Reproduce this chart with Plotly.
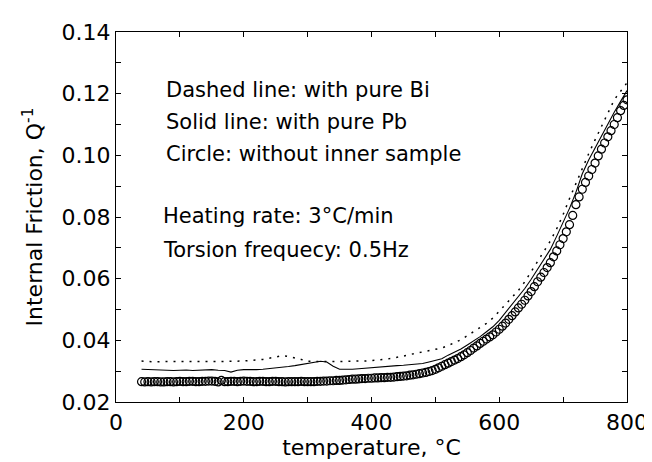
import plotly.graph_objects as go

# Temperature grid (°C) for the two line series
temperature = [40, 50, 60, 70, 80, 90, 100, 110, 120, 130, 140, 150, 160, 170, 180, 190,
               200, 210, 220, 230, 240, 250, 260, 270, 280, 290, 300, 310, 320, 330, 340, 350,
               360, 370, 380, 390, 400, 410, 420, 430, 440, 450, 460, 470, 480, 490, 500, 510,
               520, 530, 540, 550, 560, 570, 580, 590, 600, 610, 620, 630, 640, 650, 660, 670,
               680, 690, 700, 710, 720, 730, 740, 750, 760, 770, 780, 790, 800]

# Dashed line: with pure Bi
q_bi = [0.0333, 0.0331, 0.0330, 0.0331, 0.0330, 0.0331, 0.0331, 0.0330, 0.0331, 0.0331, 0.0330, 0.0331,
        0.0331, 0.0331, 0.0333, 0.0332, 0.0333, 0.0335, 0.0336, 0.0338, 0.0342, 0.0346, 0.0350, 0.0348,
        0.0344, 0.0338, 0.0332, 0.0331, 0.0331, 0.0331, 0.0331, 0.0332, 0.0331, 0.0332, 0.0333, 0.0333,
        0.0334, 0.0336, 0.0338, 0.0341, 0.0344, 0.0349, 0.0354, 0.0358, 0.0362, 0.0366, 0.0370, 0.0375,
        0.0383, 0.0392, 0.0402, 0.0415, 0.0428, 0.0440, 0.0455, 0.0472, 0.0495, 0.0518, 0.0538, 0.0562,
        0.0590, 0.0622, 0.0658, 0.0690, 0.0722, 0.0762, 0.0808, 0.0860, 0.0910, 0.0955, 0.1005, 0.1050,
        0.1095, 0.1135, 0.1180, 0.1208, 0.1235]

# Solid line: with pure Pb
q_pb = [0.0306, 0.0305, 0.0303, 0.0302, 0.0303, 0.0302, 0.0303, 0.0304, 0.0302, 0.0303, 0.0304, 0.0305,
        0.0303, 0.0302, 0.0297, 0.0303, 0.0305, 0.0304, 0.0305, 0.0306, 0.0308, 0.0309, 0.0311, 0.0315,
        0.0318, 0.0322, 0.0326, 0.0329, 0.0332, 0.0330, 0.0316, 0.0306, 0.0305, 0.0306, 0.0308, 0.0310,
        0.0312, 0.0313, 0.0315, 0.0317, 0.0318, 0.0319, 0.0321, 0.0323, 0.0325, 0.0330, 0.0336, 0.0340,
        0.0352, 0.0362, 0.0372, 0.0385, 0.0398, 0.0412, 0.0428, 0.0444, 0.0465, 0.0490, 0.0515, 0.0540,
        0.0568, 0.0598, 0.0630, 0.0660, 0.0695, 0.0738, 0.0782, 0.0828, 0.0880, 0.0940, 0.0985, 0.1025,
        0.1065, 0.1100, 0.1140, 0.1175, 0.1210]

# Temperature grid (°C) for the circle series (denser sampling)
temperature_c = [40, 45, 50, 55, 60, 65, 70, 75, 80, 85, 90, 95, 100, 105, 110, 115, 120, 125, 130, 135,
                 140, 145, 150, 155, 160, 165, 170, 175, 180, 185, 190, 195, 200, 205, 210, 215, 220, 225,
                 230, 235, 240, 245, 250, 255, 260, 265, 270, 275, 280, 285, 290, 295, 300, 305, 310, 315,
                 320, 325, 330, 335, 340, 345, 350, 355, 360, 365, 370, 375, 380, 385, 390, 395, 400, 405,
                 410, 415, 420, 425, 430, 435, 440, 445, 450, 455, 460, 465, 470, 475, 480, 485, 490, 495,
                 500, 505, 510, 515, 520, 525, 530, 535, 540, 545, 550, 555, 560, 565, 570, 575, 580, 585,
                 590, 595, 600, 605, 610, 615, 620, 625, 630, 635, 640, 645, 650, 655, 660, 665, 670, 675,
                 680, 685, 690, 695, 700, 705, 710, 715, 720, 725, 730, 735, 740, 745, 750, 755, 760, 765,
                 770, 775, 780, 785, 790, 795, 800]

# Circle: without inner sample
q_none = [0.0266, 0.0265, 0.0266, 0.0265, 0.0266, 0.0266, 0.0265, 0.0265, 0.0266, 0.0266, 0.0265, 0.0266,
          0.0267, 0.0266, 0.0266, 0.0267, 0.0267, 0.0266, 0.0266, 0.0267, 0.0267, 0.0268, 0.0268, 0.0267,
          0.0265, 0.0270, 0.0266, 0.0266, 0.0267, 0.0267, 0.0266, 0.0267, 0.0268, 0.0267, 0.0267, 0.0266,
          0.0266, 0.0267, 0.0267, 0.0266, 0.0266, 0.0267, 0.0267, 0.0266, 0.0266, 0.0265, 0.0266, 0.0266,
          0.0266, 0.0266, 0.0267, 0.0266, 0.0266, 0.0266, 0.0266, 0.0267, 0.0267, 0.0268, 0.0268, 0.0269,
          0.0269, 0.0270, 0.0270, 0.0271, 0.0272, 0.0273, 0.0274, 0.0274, 0.0275, 0.0276, 0.0276, 0.0277,
          0.0277, 0.0278, 0.0278, 0.0279, 0.0279, 0.0280, 0.0280, 0.0281, 0.0282, 0.0283, 0.0284, 0.0285,
          0.0287, 0.0288, 0.0290, 0.0292, 0.0294, 0.0296, 0.0299, 0.0302, 0.0306, 0.0311, 0.0316, 0.0321,
          0.0326, 0.0331, 0.0336, 0.0341, 0.0347, 0.0353, 0.0360, 0.0367, 0.0375, 0.0382, 0.0390, 0.0397,
          0.0404, 0.0411, 0.0418, 0.0427, 0.0436, 0.0446, 0.0456, 0.0468, 0.0480, 0.0492, 0.0505, 0.0517,
          0.0530, 0.0544, 0.0558, 0.0574, 0.0590, 0.0605, 0.0620, 0.0636, 0.0652, 0.0671, 0.0690, 0.0710,
          0.0730, 0.0752, 0.0775, 0.0805, 0.0840, 0.0865, 0.0890, 0.0912, 0.0933, 0.0954, 0.0975, 0.0998,
          0.1020, 0.1040, 0.1060, 0.1080, 0.1100, 0.1122, 0.1145, 0.1162, 0.1180]

x_ticks = [0, 200, 400, 600, 800]
y_ticks = [0.02, 0.04, 0.06, 0.08, 0.10, 0.12, 0.14]

notes = ["Dashed line: with pure Bi", "Solid line: with pure Pb", "Circle: without inner sample",
         "Heating rate: 3°C/min", "Torsion frequecy: 0.5Hz"]
note_x = [0.093, 0.093, 0.093, 0.089, 0.089]
note_y = [0.843, 0.757, 0.669, 0.504, 0.411]

FONT = "DejaVu Sans, Arial, sans-serif"

fig = go.Figure()
fig.add_trace(go.Scatter(x=temperature_c, y=q_none, mode="markers",
                         marker=dict(symbol="circle-open", size=8, color="black", line=dict(width=1.2)),
                         showlegend=False))
fig.add_trace(go.Scatter(x=temperature, y=q_pb, mode="lines",
                         line=dict(color="black", width=1.1), showlegend=False))
fig.add_trace(go.Scatter(x=temperature, y=q_bi, mode="lines",
                         line=dict(color="black", width=1.5, dash="2px,6px"), showlegend=False))

for t, xx, yy in zip(notes, note_x, note_y):
    fig.add_annotation(text=t, x=xx, y=yy, xref="paper", yref="paper", xanchor="left",
                       yanchor="middle", showarrow=False, font=dict(size=21, color="black", family=FONT))

axis_common = dict(showline=True, linecolor="black", linewidth=1.2, mirror="ticks",
                   ticks="inside", ticklen=5, tickcolor="black", showgrid=False, zeroline=False,
                   tickfont=dict(size=22, color="black", family=FONT))

fig.update_xaxes(range=[0, 800], tickvals=x_ticks, ticktext=[str(v) for v in x_ticks],
                 minor=dict(dtick=100, ticks="inside", ticklen=5, tickcolor="black"),
                 title=dict(text="temperature, °C", font=dict(size=22, color="black", family=FONT), standoff=6),
                 **axis_common)
fig.update_yaxes(range=[0.02, 0.14], tickvals=y_ticks, ticktext=[f"{v:.2f}" for v in y_ticks],
                 minor=dict(dtick=0.01, ticks="inside", ticklen=5, tickcolor="black"),
                 title=dict(text="Internal Friction, Q<sup>-1</sup>", font=dict(size=22, color="black", family=FONT), standoff=12),
                 **axis_common)

fig.update_layout(width=652, height=462, margin=dict(l=108, r=25, t=19, b=68),
                  paper_bgcolor="white", plot_bgcolor="white")

fig.write_html("out.html")
